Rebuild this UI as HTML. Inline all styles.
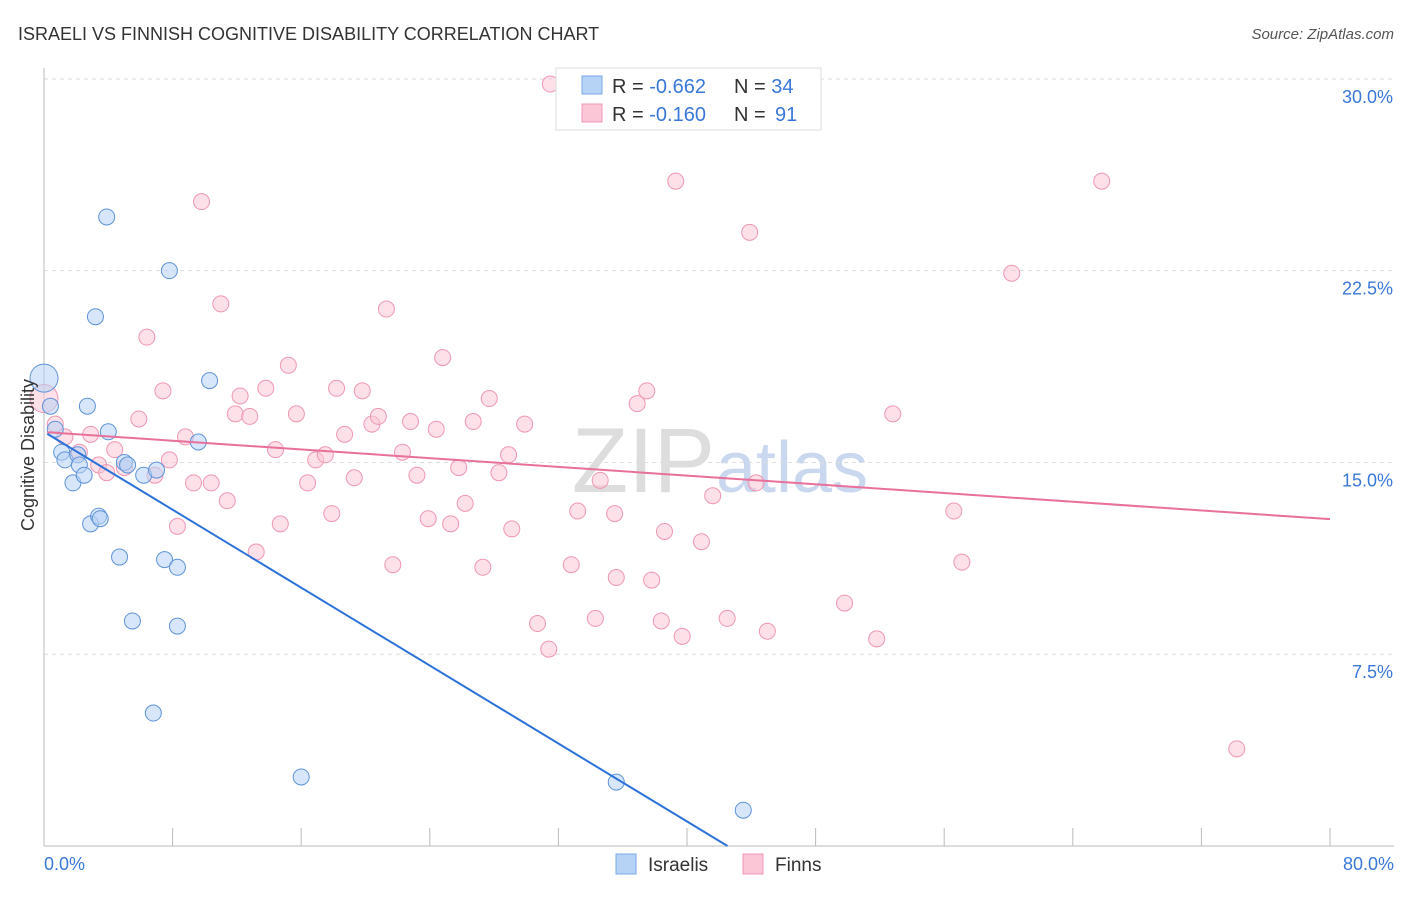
<!DOCTYPE html>
<html><head><meta charset="utf-8"><style>
body{margin:0;background:#fff;font-family:"Liberation Sans",sans-serif;}
svg text{font-family:"Liberation Sans",sans-serif;}
</style></head><body>
<svg id="chart" width="1406" height="892">
<text x="18" y="40" font-size="18" fill="#333">ISRAELI VS FINNISH COGNITIVE DISABILITY CORRELATION CHART</text>
<text x="1394" y="39" font-size="15" fill="#555" font-style="italic" text-anchor="end">Source: ZipAtlas.com</text>
<text x="715" y="492" font-size="92" fill="#ddd" font-family="Liberation Serif" text-anchor="end">ZIP</text>
<text x="716" y="492" font-size="72" fill="#c9d8ee">atlas</text>
<g id="grid"></g><g id="axes"></g><g id="marks"></g>
<text transform="translate(34,455) rotate(-90)" font-size="18" fill="#333" text-anchor="middle">Cognitive Disability</text>
<g>
<rect x="556" y="68" width="265" height="62" fill="#fff" stroke="#ddd"/>
<rect x="582" y="76" width="20" height="18" fill="#b6d2f5" stroke="#7aa8e6"/>
<rect x="582" y="104" width="20" height="18" fill="#fbc7d6" stroke="#ef97b3"/>
<text x="612" y="93" font-size="20" fill="#333">R = <tspan fill="#3a78d8">-0.662</tspan><tspan x="734">N = </tspan><tspan fill="#3a78d8">34</tspan></text>
<text x="612" y="121" font-size="20" fill="#333">R = <tspan fill="#3a78d8">-0.160</tspan><tspan x="734">N = </tspan><tspan x="775" fill="#3a78d8">91</tspan></text>
</g>
<g>
<rect x="616" y="854" width="20" height="20" fill="#b6d2f5" stroke="#7aa8e6"/>
<text x="648" y="871" font-size="19" fill="#333">Israelis</text>
<rect x="743" y="854" width="20" height="20" fill="#fbc7d6" stroke="#ef97b3"/>
<text x="775" y="871" font-size="19" fill="#333">Finns</text>
</g>
</svg>
<script>
const xTicks=[0,8,16,24,32,40,48,56,64,72,80];
const yTicks=[7.5,15,22.5,30];
const yTickLabels=["7.5%","15.0%","22.5%","30.0%"];
const israeliX=[0,0.4,0.7,1.1,1.3,1.8,2.1,2.2,2.5,2.7,2.9,3.2,3.4,3.5,3.9,4.0,4.7,5.0,5.2,5.5,6.2,6.8,7.0,7.5,7.8,8.3,8.3,9.6,10.3,16.0,35.6,43.5];
const israeliY=[18.3,17.2,16.3,15.4,15.1,14.2,15.3,14.9,14.5,17.2,12.6,20.7,12.9,12.8,24.6,16.2,11.3,15.0,14.9,8.8,14.5,5.2,14.7,11.2,22.5,10.9,8.6,15.8,18.2,2.7,2.5,1.4];
const finnX=[0,0.7,1.3,2.2,2.9,3.4,3.9,4.4,5.0,5.9,6.4,6.9,7.4,7.8,8.3,8.8,9.3,9.8,10.4,11.0,11.4,11.9,12.2,12.8,13.2,13.8,14.4,14.7,15.2,15.7,16.4,16.9,17.5,17.9,18.2,18.7,19.3,19.8,20.4,20.8,21.3,21.7,22.3,22.8,23.2,23.9,24.4,24.8,25.3,25.8,26.2,26.7,27.3,27.7,28.3,28.9,29.1,29.9,30.7,31.5,31.4,32.8,33.2,34.3,34.6,35.5,35.6,36.9,37.5,37.8,38.4,38.6,39.3,39.7,40.9,41.6,42.5,43.9,44.3,45.0,49.8,51.8,52.8,56.6,57.1,60.2,65.8,74.2];
const finnY=[17.5,16.5,16.0,15.4,16.1,14.9,14.6,15.5,14.8,16.7,19.9,14.5,17.8,15.1,12.5,16.0,14.2,25.2,14.2,21.2,13.5,16.9,17.6,16.8,11.5,17.9,15.5,12.6,18.8,16.9,14.2,15.1,15.3,13.0,17.9,16.1,14.4,17.8,16.5,16.8,21.0,11.0,15.4,16.6,14.5,12.8,16.3,19.1,12.6,14.8,13.4,16.6,10.9,17.5,14.6,15.3,12.4,16.5,8.7,29.8,7.7,11.0,13.1,8.9,14.3,13.0,10.5,17.3,17.8,10.4,8.8,12.3,26.0,8.2,11.9,13.7,8.9,24.0,14.2,8.4,9.5,8.1,16.9,13.1,11.1,22.4,26.0,3.8];
const israeliFit=[16.2,-0.381];
const finnFit=[16.19,-0.0426];
const X=v=>44+v*16.075, Y=v=>846-v*25.57;
const ns="http://www.w3.org/2000/svg";
function mk(t,p,a){const e=document.createElementNS(ns,t);for(const k in a)e.setAttribute(k,a[k]);p.appendChild(e);return e;}
const grid=document.getElementById('grid'),axes=document.getElementById('axes'),marks=document.getElementById('marks');
yTicks.forEach((t,i)=>{const l=mk('line',grid,{x1:44,x2:1394,y1:Y(t),y2:Y(t),stroke:'#ddd','stroke-dasharray':'4,4'});


const tx=mk('text',grid,{x:1393,y:Y(t)+24,'font-size':18,fill:'#3a78d8','text-anchor':'end'});tx.textContent=yTickLabels[i];

});
const topLine=mk('line',grid,{x1:44,x2:1394,y1:79,y2:79,stroke:'#ddd','stroke-dasharray':'4,4'});


mk('line',axes,{x1:44,x2:44,y1:68,y2:846,stroke:'#bbb'});
mk('line',axes,{x1:44,x2:1394,y1:846,y2:846,stroke:'#bbb'});
xTicks.forEach(t=>{const l=mk('line',axes,{x1:X(t),x2:X(t),y1:828,y2:846,stroke:'#bbb'});

});
const xMin=mk('text',axes,{x:44,y:870,'font-size':18,fill:'#3a78d8'});xMin.textContent='0.0%';


const xMax=mk('text',axes,{x:1394,y:870,'font-size':18,fill:'#3a78d8','text-anchor':'end'});xMax.textContent='80.0%';


function pts(xs,ys,fill,stroke,name){xs.forEach((x,i)=>{const c=mk('circle',marks,{cx:X(x),cy:Y(ys[i]),r:i==0?14:8,fill:fill,'fill-opacity':0.55,stroke:stroke,'stroke-width':1});

});}
pts(finnX,finnY,'#fbc7d6','#ef97b3','finn-point');
pts(israeliX,israeliY,'#b6d2f5','#5f93d8','israeli-point');
const bx2=-israeliFit[0]/israeliFit[1];
const bl=mk('line',marks,{x1:X(0.2),y1:Y(israeliFit[0]+israeliFit[1]*0.2),x2:X(bx2),y2:Y(0),stroke:'#2c72d8','stroke-width':2});


const pl=mk('line',marks,{x1:X(0.2),y1:Y(finnFit[0]+finnFit[1]*0.2),x2:X(80),y2:Y(finnFit[0]+finnFit[1]*80),stroke:'#e8709a','stroke-width':2});


</script>
</body></html>
